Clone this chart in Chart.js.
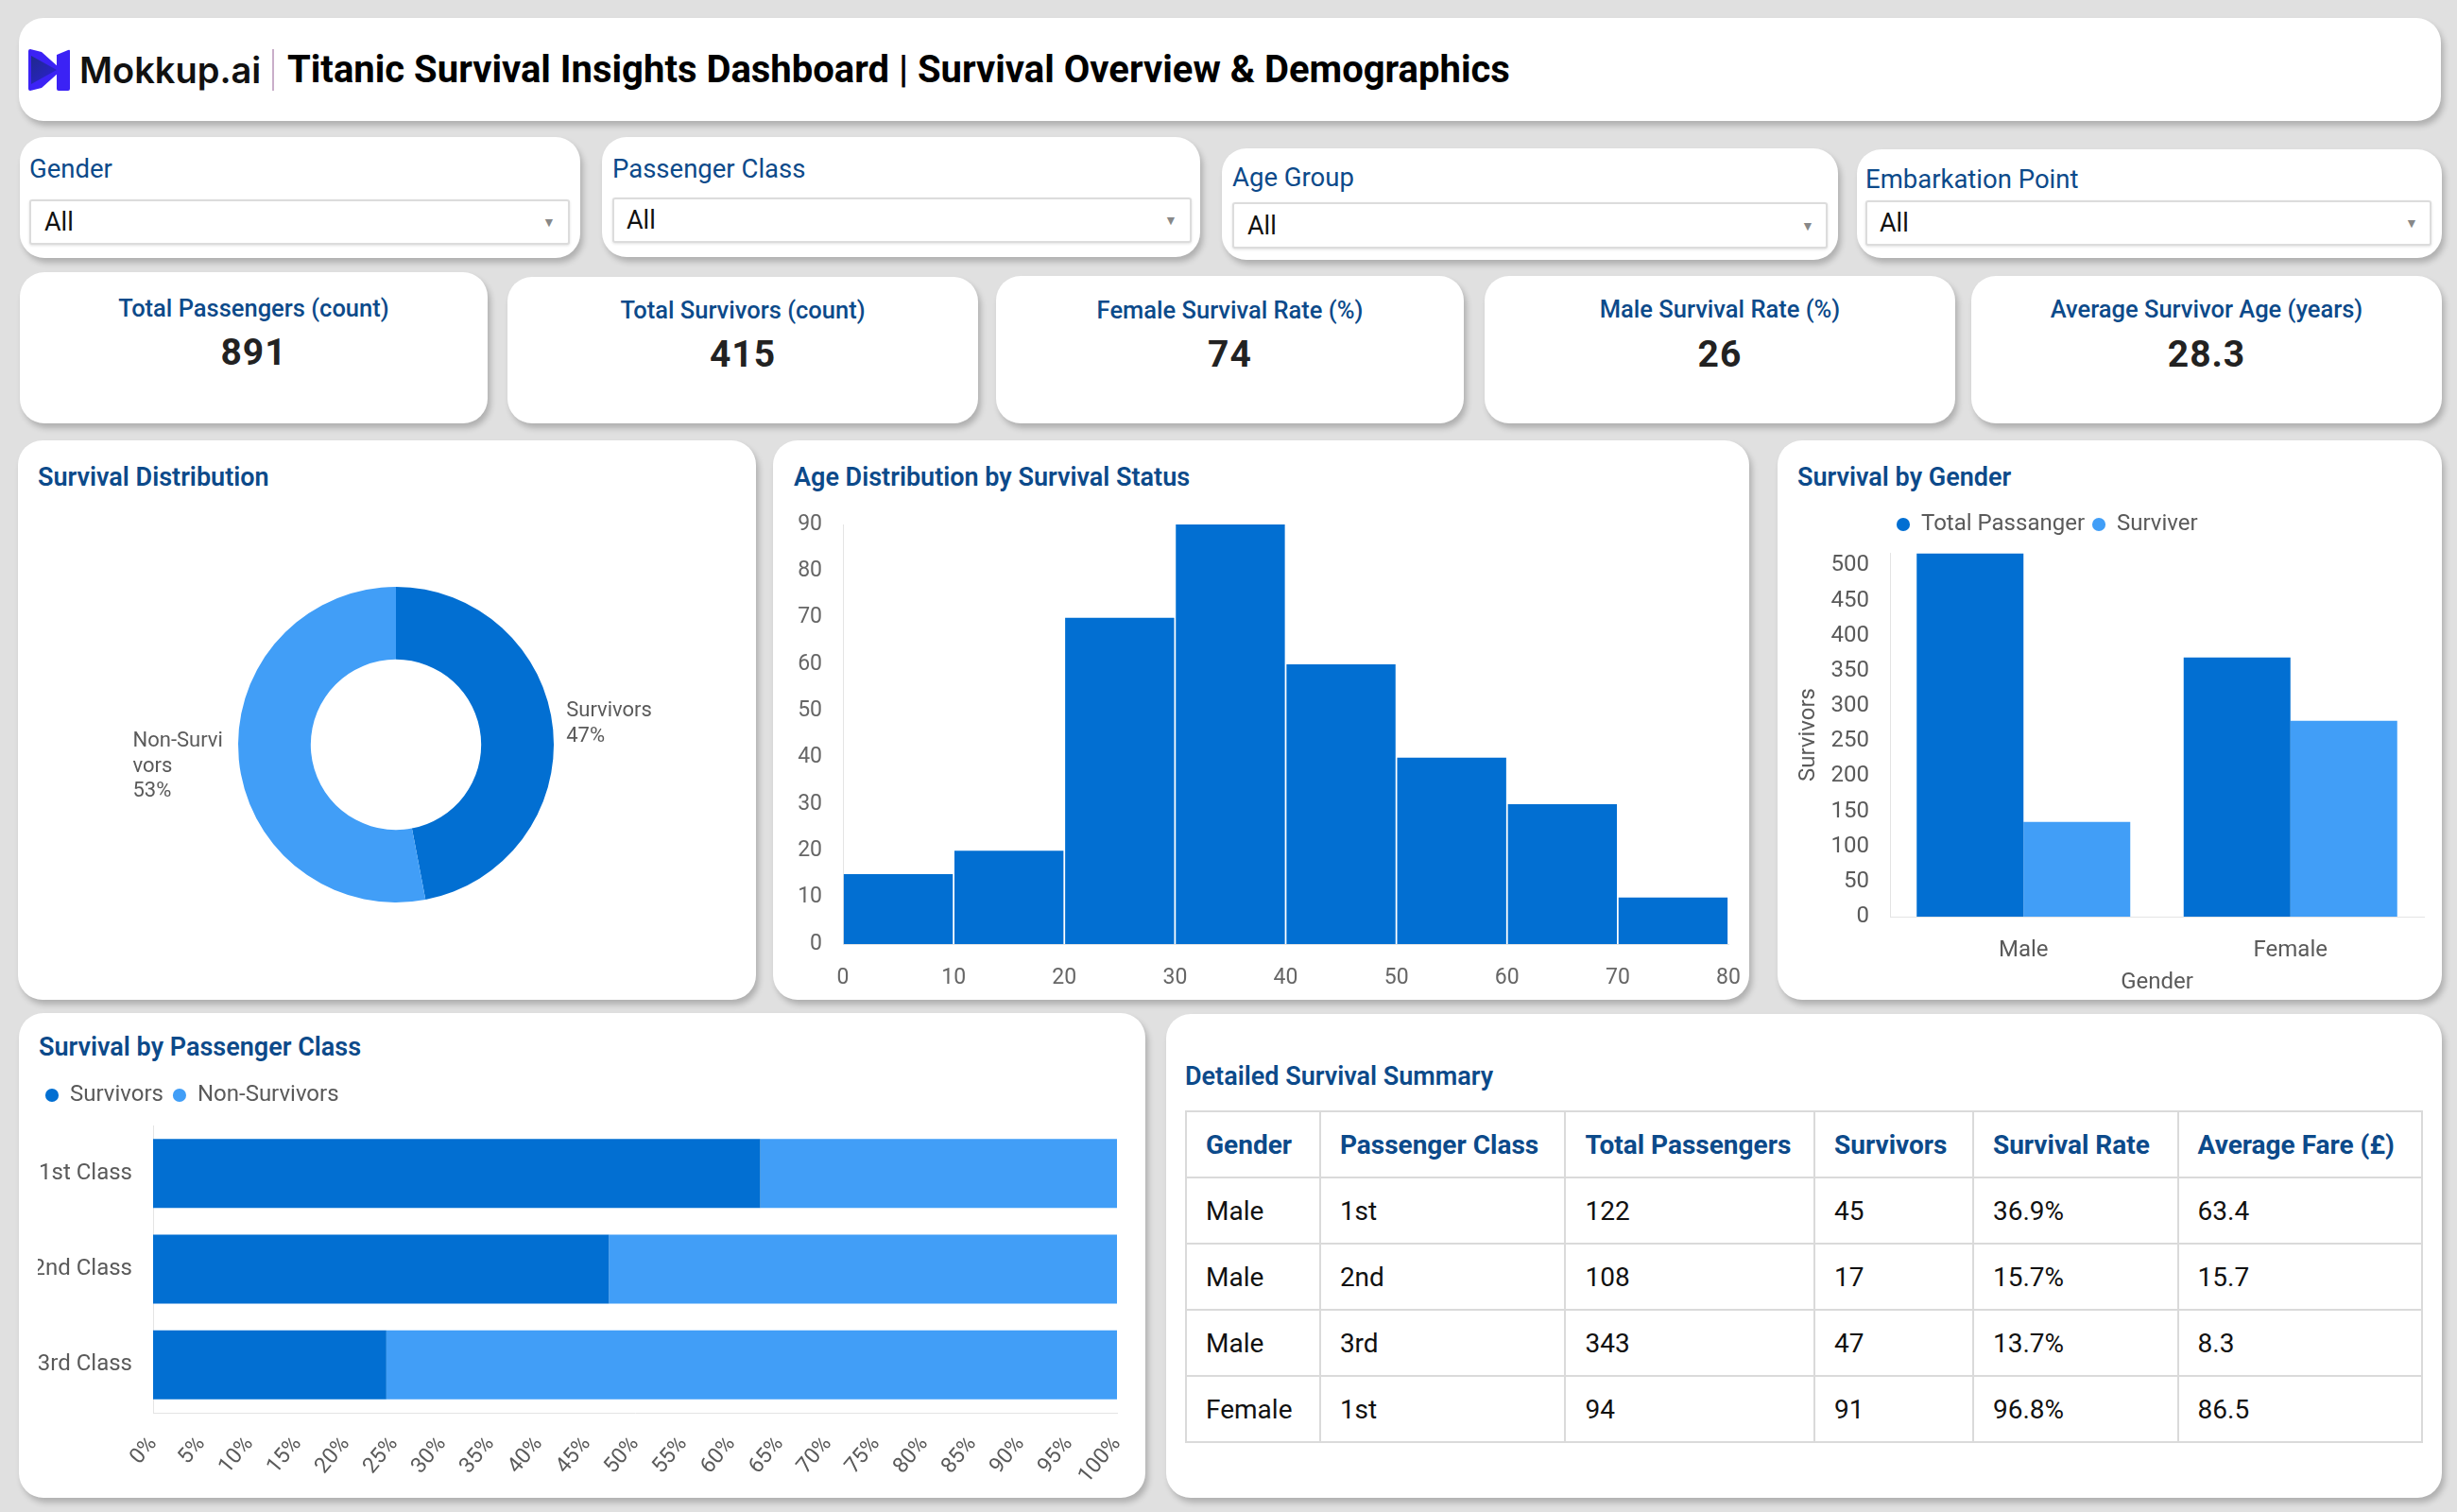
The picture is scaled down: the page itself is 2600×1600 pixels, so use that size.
<!DOCTYPE html>
<html>
<head>
<meta charset="utf-8">
<script src="https://cdn.jsdelivr.net/npm/chart.js@4.4.1/dist/chart.umd.min.js"></script>
<style>
  html,body{margin:0;padding:0;}
  body{width:2600px;height:1600px;background:#e0e0e0;font-family:Roboto,"Noto Sans",sans-serif;position:relative;overflow:hidden;}
  .card{position:absolute;background:#fff;border-radius:26px;box-shadow:3px 5px 6px rgba(0,0,0,0.22);}
  .t{position:absolute;white-space:nowrap;}
  .flabel{font-size:27.5px;color:#0c4a8a;height:40px;line-height:40px;}
  .dd{position:absolute;border:2px solid #dcdcdc;border-radius:3px;background:#fff;box-shadow:0 1px 3px rgba(0,0,0,0.12);box-sizing:border-box;}
  .ddv{font-size:27px;color:#111;height:40px;line-height:40px;}
  .arrow{font-size:14px;color:#888;height:20px;line-height:20px;}
  .klabel{font-size:25.5px;font-weight:500;color:#0c4a8a;height:40px;line-height:40px;text-align:center;}
  .kval{font-size:39px;font-weight:700;color:#222;height:50px;line-height:50px;text-align:center;letter-spacing:1px;}
  .ctitle{font-size:27px;font-weight:600;color:#0c4a8a;height:40px;line-height:40px;}
  canvas{position:absolute;}
  table{position:absolute;border-collapse:collapse;font-family:Roboto,sans-serif;}
  td,th{border:2px solid #dadada;height:70px;padding:0 0 0 20px;text-align:left;font-size:28px;box-sizing:border-box;}
  th{color:#0c4a8a;font-weight:700;}
  td{color:#111;font-weight:400;}
</style>
</head>
<body>
<script>
// ---------------- data ----------------
const dashTitle = 'Titanic Survival Insights Dashboard | Survival Overview & Demographics';
const filterNames = ['Gender', 'Passenger Class', 'Age Group', 'Embarkation Point'];
const filterValues = ['All', 'All', 'All', 'All'];
const kpiLabels = ['Total Passengers (count)', 'Total Survivors (count)', 'Female Survival Rate (%)', 'Male Survival Rate (%)', 'Average Survivor Age (years)'];
const kpiValues = ['891', '415', '74', '26', '28.3'];

const donutLabels = ['Survivors', 'Non-Survivors'];
const donutLabelLines = [['Survivors'], ['Non-Survi', 'vors']];
const donutValues = [47, 53];

const ageEdges = [0, 10, 20, 30, 40, 50, 60, 70, 80];
const ageCounts = [15, 20, 70, 90, 60, 40, 30, 10];

const genders = ['Male', 'Female'];
const genderTotal = [517, 369];
const genderSurvivors = [135, 279];

const classes = ['1st Class', '2nd Class', '3rd Class'];
const classSurvivorPct = [63, 47.3, 24.2];
const classNonSurvivorPct = [37, 52.7, 75.8];

const tableHeaders = ['Gender', 'Passenger Class', 'Total Passengers', 'Survivors', 'Survival Rate', 'Average Fare (£)'];
const tableGender = ['Male', 'Male', 'Male', 'Female'];
const tableClass = ['1st', '2nd', '3rd', '1st'];
const tableTotal = [122, 108, 343, 94];
const tableSurvivors = [45, 17, 47, 91];
const tableRate = ['36.9%', '15.7%', '13.7%', '96.8%'];
const tableFare = ['63.4', '15.7', '8.3', '86.5'];
</script>

<!-- header -->
<div class="card" style="left:20px;top:19px;width:2563px;height:109px;"></div>
<svg style="position:absolute;left:30px;top:52px;" width="44" height="44" viewBox="0 0 44 44">
  <defs><linearGradient id="lg" x1="0" y1="0" x2="1" y2="1"><stop offset="0" stop-color="#1f2a8c"/><stop offset="1" stop-color="#2c1fd6"/></linearGradient></defs>
  <path d="M2 0 L14 3 L33 20 L33 24 L14 41 L2 44 Q0 44 0 42 L0 2 Q0 0 2 0 Z" fill="#3b22f5"/>
  <path d="M3 7 L30 22 L3 37 Z" fill="url(#lg)"/>
  <path d="M30 6 L42 1 Q44 0 44 2 L44 42 Q44 44 42 44 L32 44 Q30 44 30 42 Z" fill="#3b22f5"/>
</svg>
<div class="t" id="brand" style="left:84px;top:51px;height:46px;line-height:46px;font-family:Inter,Roboto,sans-serif;font-weight:600;font-size:38px;color:#111;">Mokkup.ai</div>
<div style="position:absolute;left:288px;top:52px;width:2px;height:44px;background:#c9aec9;"></div>
<div class="t" id="title" style="left:304px;top:51px;height:46px;line-height:46px;font-weight:700;font-size:40px;color:#000;"></div>

<!-- filter cards -->
<div class="card" style="left:21px;top:145px;width:593px;height:128px;"></div>
<div class="card" style="left:637px;top:145px;width:633px;height:127px;"></div>
<div class="card" style="left:1293px;top:157px;width:652px;height:118px;"></div>
<div class="card" style="left:1965px;top:158px;width:619px;height:115px;"></div>
<div id="filters"></div>

<!-- KPI cards -->
<div id="kpis"></div>

<!-- middle row -->
<div class="card" style="left:19px;top:466px;width:781px;height:592px;"></div>
<div class="card" style="left:818px;top:466px;width:1033px;height:592px;"></div>
<div class="card" style="left:1881px;top:466px;width:703px;height:592px;"></div>
<div class="t ctitle" style="left:40px;top:485px;">Survival Distribution</div>
<div class="t ctitle" style="left:840px;top:485px;">Age Distribution by Survival Status</div>
<div class="t ctitle" style="left:1902px;top:485px;">Survival by Gender</div>
<canvas id="donut" width="780" height="500" style="left:20px;top:540px;"></canvas>
<canvas id="ageChart" width="1033" height="528" style="left:818px;top:530px;"></canvas>
<canvas id="genderChart" width="703" height="528" style="left:1881px;top:530px;"></canvas>

<!-- bottom row -->
<div class="card" style="left:20px;top:1072px;width:1192px;height:513px;"></div>
<div class="card" style="left:1234px;top:1073px;width:1350px;height:512px;"></div>
<div class="t ctitle" style="left:41px;top:1088px;">Survival by Passenger Class</div>
<div class="t ctitle" style="left:1254px;top:1119px;">Detailed Survival Summary</div>
<canvas id="classChart" width="1172" height="455" style="left:40px;top:1130px;"></canvas>
<table id="tbl" style="left:1254px;top:1175px;width:1310px;"></table>

<script>
document.getElementById('title').textContent = dashTitle;

// filters
const fPos = [
  {lx:31, ly:179, dl:31, dt:211, dw:572, dh:48, vx:47, ax:579},
  {lx:648, ly:179, dl:648, dt:209, dw:613, dh:48, vx:663, ax:1237},
  {lx:1304, ly:188, dl:1304, dt:214, dw:630, dh:49, vx:1320, ax:1911},
  {lx:1974, ly:190, dl:1974, dt:212, dw:599, dh:48, vx:1989, ax:2550}
];
let fh = '';
filterNames.forEach((n, i) => {
  const p = fPos[i];
  fh += `<div class="t flabel" style="left:${p.lx}px;top:${p.ly - 20}px;">${n}</div>`;
  fh += `<div class="dd" style="left:${p.dl}px;top:${p.dt}px;width:${p.dw}px;height:${p.dh}px;"></div>`;
  fh += `<div class="t ddv" style="left:${p.vx}px;top:${p.dt + p.dh / 2 - 20}px;">${filterValues[i]}</div>`;
  fh += `<div class="t arrow" style="left:${p.ax - 5}px;top:${p.dt + p.dh / 2 - 10}px;">▼</div>`;
});
document.getElementById('filters').innerHTML = fh;

// KPIs
const kPos = [
  {l:21, t:288, r:516, ly:326, vy:373},
  {l:537, t:293, r:1035, ly:328, vy:375},
  {l:1054, t:292, r:1549, ly:328, vy:375},
  {l:1571, t:292, r:2069, ly:327, vy:375},
  {l:2086, t:292, r:2584, ly:327, vy:375}
];
let kh = '';
kpiLabels.forEach((lab, i) => {
  const p = kPos[i];
  kh += `<div class="card" style="left:${p.l}px;top:${p.t}px;width:${p.r - p.l}px;height:${448 - p.t}px;"></div>`;
  kh += `<div class="t klabel" style="left:${p.l}px;width:${p.r - p.l}px;top:${p.ly - 20}px;">${lab}</div>`;
  kh += `<div class="t kval" style="left:${p.l}px;width:${p.r - p.l}px;top:${p.vy - 25}px;">${kpiValues[i]}</div>`;
});
document.getElementById('kpis').innerHTML = kh;

// table
const colW = [142, 260, 264, 168, 217, 259];
let th = '<tr>' + tableHeaders.map((h, i) => `<th style="width:${colW[i]}px">${h}</th>`).join('') + '</tr>';
for (let r = 0; r < tableGender.length; r++) {
  th += '<tr>' + [tableGender[r], tableClass[r], tableTotal[r], tableSurvivors[r], tableRate[r], tableFare[r]].map(v => `<td>${v}</td>`).join('') + '</tr>';
}
document.getElementById('tbl').innerHTML = th;

// ---------------- charts ----------------
const DARK = '#026fd2';
const LIGHT = '#419ef7';
const GREY = '#5a5a5a';
Chart.defaults.font.family = 'Roboto';
Chart.defaults.color = GREY;
Chart.defaults.animation = false;
Chart.defaults.responsive = false;
Chart.defaults.plugins.tooltip.enabled = false;

// fix axis sizes and drop the automatic label overflow padding
const fixX = h => s => { s.height = h; s.paddingLeft = 0; s.paddingRight = 0; };
const fixY = w => s => { s.width = w; s.paddingTop = 0; s.paddingBottom = 0; };

const legendPos = {
  id: 'legendPos',
  afterLayout(chart, args, opts) {
    if (!chart.legend) return;
    if (opts.top != null) chart.legend.top = opts.top;
    if (opts.left != null) chart.legend.left = opts.left;
  }
};

const donutLabelPlugin = {
  id: 'donutLabels',
  afterDatasetsDraw(chart) {
    const ctx = chart.ctx;
    const meta = chart.getDatasetMeta(0);
    const total = donutValues.reduce((a, b) => a + b, 0);
    ctx.save();
    ctx.font = '22px Roboto';
    ctx.fillStyle = GREY;
    ctx.textBaseline = 'middle';
    ctx.textAlign = 'left';
    meta.data.forEach((arc, i) => {
      const p = arc.getProps(['x', 'y', 'startAngle', 'endAngle', 'outerRadius'], true);
      const mid = (p.startAngle + p.endAngle) / 2;
      const r = p.outerRadius + 14;
      const px = p.x + Math.cos(mid) * r;
      const py = p.y + Math.sin(mid) * r;
      const lines = donutLabelLines[i].concat([Math.round(donutValues[i] / total * 100) + '%']);
      const lh = 26.5;
      const w = Math.max(...lines.map(l => ctx.measureText(l).width));
      const left = Math.cos(mid) >= 0 ? px : px - w - 3;
      const y0 = py - (lines.length - 1) * lh / 2 + (Math.sin(mid) < 0 ? -5 : 6);
      lines.forEach((l, k) => ctx.fillText(l, left, y0 + k * lh));
    });
    ctx.restore();
  }
};

new Chart(document.getElementById('donut'), {
  type: 'doughnut',
  data: {
    labels: donutLabels,
    datasets: [{data: donutValues, backgroundColor: [DARK, LIGHT], borderWidth: 0}]
  },
  options: {
    cutout: '54%',
    layout: {padding: {left: 232, right: 214, top: 81, bottom: 85}},
    plugins: {legend: {display: false}}
  },
  plugins: [donutLabelPlugin]
});

new Chart(document.getElementById('ageChart'), {
  type: 'bar',
  data: {
    datasets: [{
      label: 'Passengers',
      data: ageCounts.map((c, i) => ({x: (ageEdges[i] + ageEdges[i + 1]) / 2, y: c})),
      backgroundColor: DARK,
      barPercentage: 0.985,
      categoryPercentage: 1
    }]
  },
  options: {
    layout: {padding: {top: 25, right: 22, left: 0, bottom: 0}},
    plugins: {legend: {display: false}},
    scales: {
      x: {
        type: 'linear', offset: false, min: ageEdges[0], max: ageEdges[ageEdges.length - 1],
        ticks: {stepSize: 10, padding: 22, color: '#666', font: {size: 23}},
        grid: {display: false, drawTicks: false},
        border: {color: '#e4e4e4'},
        afterFit: fixX(59)
      },
      y: {
        min: 0, max: 90,
        ticks: {stepSize: 10, padding: 22, color: '#666', font: {size: 23}},
        grid: {display: false, drawTicks: false},
        border: {color: '#e4e4e4'},
        afterFit: fixY(74)
      }
    }
  }
});

new Chart(document.getElementById('genderChart'), {
  type: 'bar',
  data: {
    labels: genders,
    datasets: [
      {label: 'Total Passanger', data: genderTotal, backgroundColor: DARK, categoryPercentage: 0.8, barPercentage: 1},
      {label: 'Surviver', data: genderSurvivors, backgroundColor: LIGHT, categoryPercentage: 0.8, barPercentage: 1}
    ]
  },
  options: {
    layout: {padding: {top: 13, right: 19, left: 0, bottom: 0}},
    plugins: {
      legend: {align: 'start', labels: {usePointStyle: true, pointStyle: 'circle', boxWidth: 14, boxHeight: 10, padding: 8, color: GREY, font: {size: 24}}},
      legendPos: {top: 5, left: 118}
    },
    scales: {
      x: {
        ticks: {padding: 22, color: GREY, font: {size: 24}},
        grid: {display: false, drawTicks: false},
        border: {color: '#e4e4e4'},
        title: {display: true, text: 'Gender', color: GREY, font: {size: 24}, padding: {top: 0, bottom: 4}},
        afterFit: fixX(88)
      },
      y: {
        min: 0, max: 518,
        ticks: {stepSize: 50, includeBounds: false, padding: 22, color: GREY, font: {size: 24}},
        grid: {display: false, drawTicks: false},
        border: {color: '#e4e4e4'},
        title: {display: true, text: 'Survivors', color: GREY, font: {size: 24}, padding: {top: 19, bottom: 0}},
        afterFit: fixY(119)
      }
    }
  },
  plugins: [legendPos]
});

new Chart(document.getElementById('classChart'), {
  type: 'bar',
  data: {
    labels: classes,
    datasets: [
      {label: 'Survivors', data: classSurvivorPct, backgroundColor: DARK, categoryPercentage: 0.8, barPercentage: 0.9},
      {label: 'Non-Survivors', data: classNonSurvivorPct, backgroundColor: LIGHT, categoryPercentage: 0.8, barPercentage: 0.9}
    ]
  },
  options: {
    indexAxis: 'y',
    layout: {padding: {top: 17, right: 30, left: 0, bottom: 0}},
    plugins: {
      legend: {align: 'start', labels: {usePointStyle: true, pointStyle: 'circle', boxWidth: 14, boxHeight: 10, padding: 10, color: GREY, font: {size: 24}}},
      legendPos: {top: 7, left: -2}
    },
    scales: {
      x: {
        stacked: true, min: 0, max: 100,
        ticks: {stepSize: 5, autoSkip: false, minRotation: 50, maxRotation: 50, padding: 20, color: GREY, font: {size: 23}, callback: v => v + '%'},
        grid: {display: false, drawTicks: false},
        border: {color: '#e4e4e4'},
        afterFit: fixX(90)
      },
      y: {
        stacked: true,
        ticks: {padding: 22, color: GREY, font: {size: 24}},
        grid: {display: false, drawTicks: false},
        border: {color: '#e4e4e4'},
        afterFit: fixY(122)
      }
    }
  },
  plugins: [legendPos]
});
</script>
</body>
</html>
